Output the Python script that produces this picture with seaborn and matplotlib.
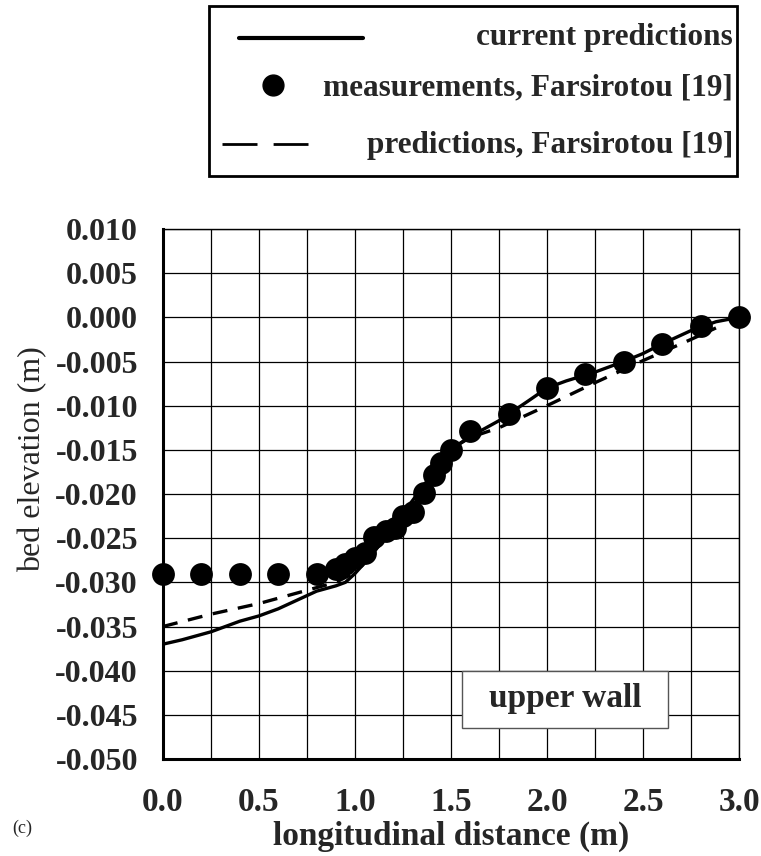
import numpy as np
import pandas as pd
import matplotlib
matplotlib.use("Agg")
import matplotlib.pyplot as plt
import seaborn as sns
from matplotlib.lines import Line2D
from matplotlib.patches import Rectangle

# ---- data ----
meas_x = [0.0, 0.2, 0.4, 0.6, 0.8, 0.9, 0.95, 1.0, 1.05, 1.1, 1.16, 1.21, 1.25, 1.3,
          1.36, 1.41, 1.45, 1.5, 1.6, 1.8, 2.0, 2.2, 2.4, 2.6, 2.8, 3.0]
meas_y = [-0.029, -0.029, -0.029, -0.029, -0.029, -0.0285, -0.0279, -0.0272, -0.0267,
          -0.0249, -0.0242, -0.0239, -0.0225, -0.0220, -0.0199, -0.0179, -0.0165,
          -0.0150, -0.0129, -0.0109, -0.0080, -0.0064, -0.0050, -0.0030, -0.0010, 0.0]

cur_x = [0.0, 0.1, 0.25, 0.4, 0.5, 0.6, 0.7, 0.8, 0.9, 0.95, 1.0, 1.07, 1.15, 1.25,
         1.36, 1.45, 1.51, 1.6, 1.75, 1.9, 2.0, 2.1, 2.25, 2.4, 2.5, 2.6, 2.75, 2.88, 3.0]
cur_y = [-0.037, -0.0365, -0.0356, -0.0344, -0.0338, -0.0330, -0.0320, -0.0310,
         -0.0304, -0.0300, -0.0290, -0.0273, -0.0252, -0.0226, -0.0197, -0.0172,
         -0.0148, -0.0135, -0.0117, -0.0095, -0.0080, -0.0072, -0.0062, -0.0050,
         -0.0041, -0.0030, -0.0015, -0.0005, 0.0]

far_x = [0.0, 0.25, 0.5, 0.75, 0.9, 1.0, 1.1, 1.25, 1.4, 1.5, 1.6, 1.75, 2.0, 2.25,
         2.5, 2.75, 2.88]
far_y = [-0.035, -0.0336, -0.0324, -0.0309, -0.0300, -0.0289, -0.0265, -0.0222,
         -0.0178, -0.0149, -0.0136, -0.0125, -0.0100, -0.0074, -0.0049, -0.0025,
         -0.0012]

legend_labels = ["current predictions", "measurements, Farsirotou [19]",
                 "predictions, Farsirotou [19]"]
x_tick_labels = ["0.0", "0.5", "1.0", "1.5", "2.0", "2.5", "3.0"]
y_ticks = [0.010, 0.005, 0.000, -0.005, -0.010, -0.015, -0.020, -0.025, -0.030,
           -0.035, -0.040, -0.045, -0.050]

# ---- style ----
sns.set_theme(style="white")
plt.rcParams['font.family'] = ['Liberation Serif', 'DejaVu Serif']

W, H = 761, 856
fig = plt.figure(figsize=(W / 100, H / 100), dpi=100)
L, R, T, B = 163, 739, 229, 759
ax = fig.add_axes([L / W, 1 - B / H, (R - L) / W, (B - T) / H])

df_cur = pd.DataFrame({"x": cur_x, "y": cur_y})
df_far = pd.DataFrame({"x": far_x, "y": far_y})
df_meas = pd.DataFrame({"x": meas_x, "y": meas_y})

sns.lineplot(data=df_cur, x="x", y="y", ax=ax, color="black", lw=2.4,
             sort=False, zorder=4)
sns.lineplot(data=df_far, x="x", y="y", ax=ax, color="black", lw=2.4,
             sort=False, zorder=3, dashes=False, linestyle=(0, (4.5, 3.2)))
sns.scatterplot(data=df_meas, x="x", y="y", ax=ax, color="black", s=270,
                edgecolor="black", linewidth=0, zorder=5, clip_on=False)

ax.set_xlim(0, 3.0)
ax.set_ylim(-0.050, 0.010)
ax.set_xticks(np.arange(0, 3.0001, 0.25))
ax.set_xticklabels(sum([[lab, ""] for lab in x_tick_labels], [])[:-1])
ax.set_yticks(y_ticks)
ax.set_yticklabels([f"{v:.3f}" if abs(v) > 1e-12 else "0.000" for v in y_ticks])

ax.grid(True, color="black", lw=0.9)
ax.set_axisbelow(True)
for side in ["top", "right"]:
    ax.spines[side].set_linewidth(1.0)
    ax.spines[side].set_color("black")
for side in ["left", "bottom"]:
    ax.spines[side].set_linewidth(2.2)
    ax.spines[side].set_color("black")

ax.tick_params(axis="both", which="both", direction="out", length=8, width=1.5,
               color="black", labelsize=23)
ax.tick_params(axis="y", pad=10)
ax.tick_params(axis="x", pad=12, labelsize=24)
for lab in ax.get_xticklabels() + ax.get_yticklabels():
    lab.set_fontweight("bold")

ax.set_xlabel("longitudinal distance (m)", fontsize=24, fontweight="bold", labelpad=2)
ax.set_ylabel("bed elevation (m)", fontsize=23)
ax.yaxis.set_label_coords((47 - L) / (R - L), 1 - (459 - T) / (B - T))

# "upper wall" box
ax.add_patch(Rectangle((1.555, -0.0465), 2.63 - 1.555, 0.0065, facecolor="white",
                       edgecolor="#555555", lw=1.0, zorder=6))
ax.text((1.555 + 2.63) / 2, -0.0432, "upper wall", ha="center", va="center",
        fontsize=24, fontweight="bold", zorder=7)

# legend (manual, figure coords)
def fx(px):
    return px / W

def fy(py):
    return 1 - py / H

fig.add_artist(Rectangle((fx(209), fy(176)), fx(737) - fx(209), fy(6) - fy(176),
                         transform=fig.transFigure, facecolor="white",
                         edgecolor="black", lw=2.0))
fig.add_artist(Line2D([fx(239), fx(363)], [fy(38), fy(38)], transform=fig.transFigure,
                      color="black", lw=3.0, solid_capstyle="round"))
fig.add_artist(Line2D([fx(273)], [fy(85)], transform=fig.transFigure, marker="o",
                      markersize=15, color="black", lw=0))
fig.add_artist(Line2D([fx(222), fx(308)], [fy(144), fy(144)], transform=fig.transFigure,
                      color="black", lw=2.0, linestyle=(0, (12.6, 5.8))))
for py, lab in zip([38, 88, 145], legend_labels):
    fig.text(fx(733), fy(py), lab, ha="right", va="center", fontsize=22.5,
             fontweight="bold")

fig.text(fx(12), fy(828), "(c)", ha="left", va="center", fontsize=13)

fig.savefig("out.png", dpi=100)
